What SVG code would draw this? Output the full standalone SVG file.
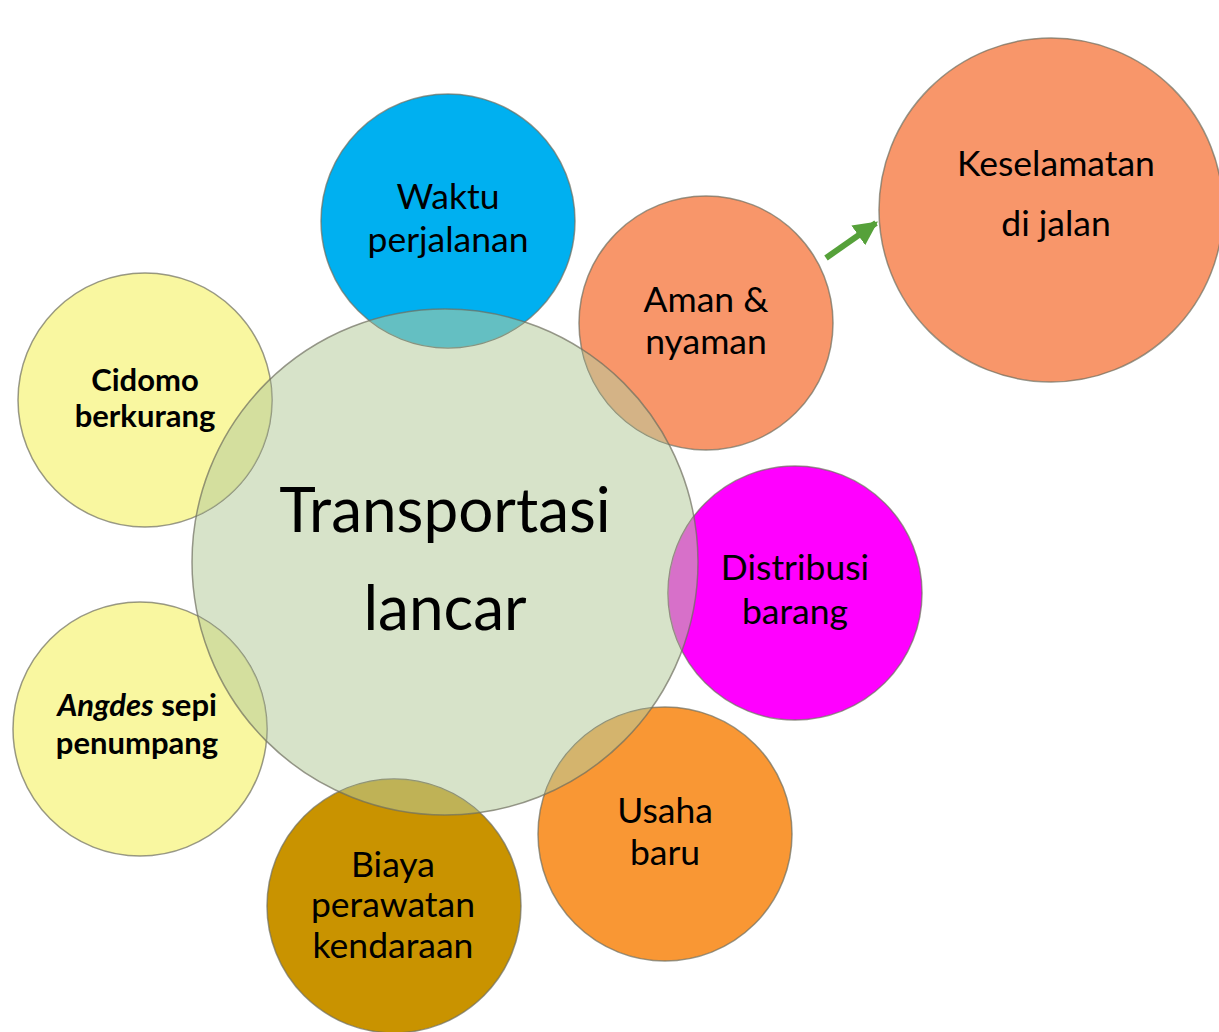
<svg xmlns="http://www.w3.org/2000/svg" width="1219" height="1032" viewBox="0 0 1219 1032">
<defs>
<style>
.c{stroke:#6e6e5e;stroke-opacity:0.7;stroke-width:1.5}
.ov{fill:#b6cc9d;fill-opacity:0.55;stroke:#6e6e5e;stroke-opacity:0.7;stroke-width:1.5}
.t{font-family:Lato,"Open Sans",sans-serif;font-size:35.5px;fill:#000;text-anchor:middle}
.b{font-family:Lato,"Open Sans",sans-serif;font-size:31px;font-weight:bold;fill:#000;text-anchor:middle}
.big{font-family:Lato,"Open Sans",sans-serif;font-size:62px;fill:#000;text-anchor:middle}
</style>
<circle id="cc" cx="445" cy="562" r="253"/>
<clipPath id="kW"><circle cx="448" cy="221" r="127"/></clipPath>
<clipPath id="kA"><circle cx="706" cy="323" r="127"/></clipPath>
<clipPath id="kC"><circle cx="145" cy="400" r="127"/></clipPath>
<clipPath id="kG"><circle cx="140" cy="729" r="127"/></clipPath>
<clipPath id="kB"><circle cx="394" cy="906" r="127"/></clipPath>
<clipPath id="kU"><circle cx="665" cy="834" r="127"/></clipPath>
<clipPath id="kD"><circle cx="795" cy="593" r="127"/></clipPath>
<marker id="ah" viewBox="0 0 10 10" refX="9" refY="5" markerWidth="4" markerHeight="4" orient="auto" markerUnits="strokeWidth">
<path d="M0,0 L10,5 L0,10 z" fill="#56a13a"/>
</marker>
</defs>
<rect width="1219" height="1032" fill="#fff"/>
<g id="center">
<circle class="c" cx="445" cy="562" r="253" fill="#d7e3c9"/>
<text class="big" x="445" y="532">Transportasi</text>
<text class="big" x="445" y="630">lancar</text>
</g>
<g id="waktu">
<circle class="c" cx="448" cy="221" r="127" fill="#00b0f0"/>
<use href="#cc" class="ov" clip-path="url(#kW)"/>
<text class="t" x="448" y="209">Waktu</text>
<text class="t" x="448" y="252">perjalanan</text>
</g>
<g id="aman">
<circle class="c" cx="706" cy="323" r="127" fill="#f8966a"/>
<use href="#cc" class="ov" clip-path="url(#kA)"/>
<text class="t" x="706" y="312">Aman &amp;</text>
<text class="t" x="706" y="354">nyaman</text>
</g>
<g id="keselamatan">
<circle class="c" cx="1051" cy="210" r="172" fill="#f8966a"/>
<text class="t" x="1056" y="176">Keselamatan</text>
<text class="t" x="1056" y="236">di jalan</text>
</g>
<g id="cidomo">
<circle class="c" cx="145" cy="400" r="127" fill="#f9f7a0"/>
<use href="#cc" class="ov" clip-path="url(#kC)"/>
<text class="b" x="145" y="391">Cidomo</text>
<text class="b" x="145" y="427">berkurang</text>
</g>
<g id="angdes">
<circle class="c" cx="140" cy="729" r="127" fill="#f9f7a0"/>
<use href="#cc" class="ov" clip-path="url(#kG)"/>
<text class="b" x="137" y="716"><tspan font-style="italic">Angdes</tspan> sepi</text>
<text class="b" x="137" y="754">penumpang</text>
</g>
<g id="biaya">
<circle class="c" cx="394" cy="906" r="127" fill="#c99300"/>
<use href="#cc" class="ov" clip-path="url(#kB)"/>
<text class="t" x="393" y="877">Biaya</text>
<text class="t" x="393" y="917">perawatan</text>
<text class="t" x="393" y="958">kendaraan</text>
</g>
<g id="usaha">
<circle class="c" cx="665" cy="834" r="127" fill="#f99734"/>
<use href="#cc" class="ov" clip-path="url(#kU)"/>
<text class="t" x="665" y="823">Usaha</text>
<text class="t" x="665" y="865">baru</text>
</g>
<g id="distribusi">
<circle class="c" cx="795" cy="593" r="127" fill="#ff00ff"/>
<use href="#cc" class="ov" clip-path="url(#kD)"/>
<text class="t" x="795" y="580">Distribusi</text>
<text class="t" x="795" y="624">barang</text>
</g>
<g id="connectors">
<line x1="826" y1="258" x2="876" y2="223" stroke="#56a13a" stroke-width="6" marker-end="url(#ah)"/>
</g>
</svg>
